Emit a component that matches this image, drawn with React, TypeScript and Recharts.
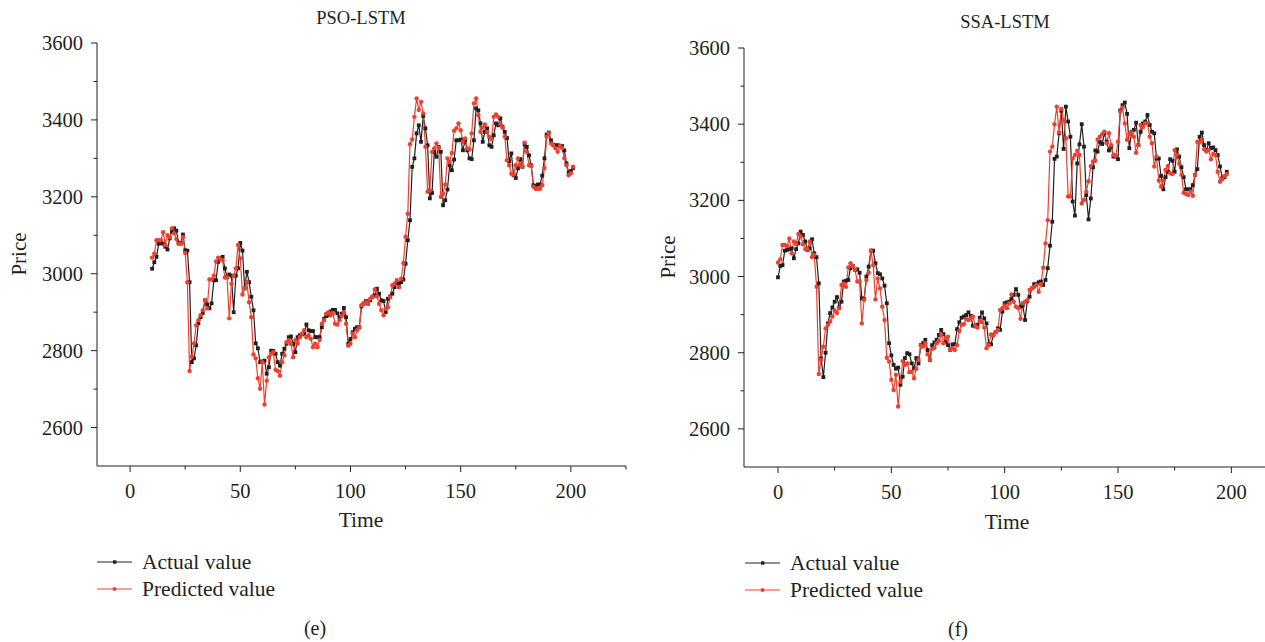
import { LineChart, Line, XAxis, YAxis } from 'recharts'

const SERIF = "'Liberation Serif', 'DejaVu Serif', serif"
const INK = '#231f20'
const RED = '#ee402e'

// PSO-LSTM panel, time starts at 10
const leftStart = 10
const leftActual = [
  3013, 3030, 3044, 3078, 3080, 3078, 3070, 3063, 3092, 3110,
  3118, 3112, 3081, 3080, 3102, 3061, 3060, 2978, 2770, 2780,
  2814, 2871, 2887, 2898, 2931, 2920, 2910, 2923, 2983, 2983,
  3031, 3040, 3044, 3014, 2992, 2998, 2995, 2900, 2995, 3014,
  3080, 3060, 2962, 3005, 2978, 2940, 2905, 2819, 2806, 2770,
  2772, 2774, 2740, 2757, 2800, 2799, 2792, 2770, 2761, 2792,
  2805, 2818, 2835, 2837, 2818, 2796, 2835, 2840, 2842, 2844,
  2868, 2853, 2851, 2851, 2835, 2835, 2835, 2861, 2883, 2890,
  2892, 2902, 2906, 2906, 2897, 2887, 2896, 2911, 2887, 2818,
  2830, 2848, 2857, 2861, 2861, 2915, 2922, 2929, 2922, 2931,
  2940, 2944, 2961, 2948, 2931, 2929, 2900, 2935, 2941, 2948,
  2965, 2976, 2974, 2978, 2985, 3026, 3087, 3139, 3278, 3300,
  3365, 3386, 3343, 3410, 3378, 3334, 3196, 3210, 3317, 3304,
  3330, 3317, 3178, 3191, 3219, 3282, 3269, 3297, 3347, 3347,
  3349, 3321, 3347, 3321, 3300, 3298, 3347, 3430, 3425, 3391,
  3343, 3369, 3378, 3334, 3330, 3360, 3391, 3386, 3404, 3382,
  3369, 3353, 3293, 3313, 3256, 3249, 3274, 3298, 3278, 3336,
  3330, 3308, 3282, 3230, 3228, 3232, 3232, 3255, 3300, 3362,
  3367, 3347, 3336, 3334, 3334, 3333, 3332, 3321, 3287, 3263,
  3267, 3275,
]
const leftPredicted = [
  3042, 3052, 3087, 3087, 3087, 3108, 3075, 3100, 3095, 3118,
  3105, 3090, 3078, 3078, 3095, 3054, 2978, 2747, 2784, 2819,
  2866, 2879, 2892, 2905, 2931, 2910, 2985, 2985, 2995, 3032,
  3042, 3038, 3035, 2990, 2990, 2884, 2974, 2995, 3014, 3075,
  3040, 2946, 2962, 2978, 2926, 2887, 2790, 2780, 2728, 2701,
  2770, 2660, 2722, 2783, 2792, 2796, 2750, 2747, 2735, 2770,
  2788, 2822, 2827, 2818, 2783, 2827, 2818, 2835, 2844, 2853,
  2835, 2840, 2831, 2809, 2818, 2809, 2828, 2870, 2879, 2896,
  2900, 2892, 2898, 2870, 2868, 2879, 2890, 2900, 2870, 2813,
  2818, 2844, 2835, 2853, 2860, 2918, 2924, 2926, 2924, 2935,
  2941, 2959, 2941, 2922, 2905, 2892, 2909, 2913, 2939, 2970,
  2974, 2983, 2965, 2987, 3028, 3096, 3156, 3337, 3349, 3408,
  3456, 3426, 3447, 3417, 3330, 3213, 3217, 3317, 3326, 3339,
  3328, 3200, 3208, 3232, 3300, 3291, 3314, 3372, 3378, 3391,
  3373, 3343, 3352, 3326, 3323, 3365, 3443, 3456, 3412, 3369,
  3380, 3388, 3369, 3356, 3350, 3408, 3414, 3408, 3388, 3380,
  3356, 3295, 3282, 3260, 3258, 3282, 3300, 3282, 3278, 3341,
  3317, 3282, 3280, 3226, 3221, 3221, 3221, 3230, 3275, 3356,
  3365, 3339, 3334, 3326, 3317, 3332, 3327, 3300, 3282, 3256,
  3261, 3278,
]

// SSA-LSTM panel, time starts at 0
const rightStart = 0
const rightActual = [
  2998, 3028, 3030, 3068, 3070, 3072, 3074, 3048, 3072, 3087,
  3118, 3109, 3092, 3070, 3074, 3098, 3061, 3051, 2982, 2785,
  2736, 2800, 2877, 2904, 2919, 2934, 2946, 2919, 2934, 2987,
  2989, 2991, 3022, 3028, 3017, 3019, 3010, 2943, 2941, 3000,
  3026, 3068, 3068, 3035, 3009, 3006, 2995, 2976, 2930, 2825,
  2793, 2768, 2758, 2761, 2716, 2737, 2786, 2799, 2796, 2772,
  2759, 2786, 2772, 2820, 2825, 2834, 2807, 2781, 2820, 2827,
  2834, 2847, 2860, 2849, 2829, 2820, 2807, 2822, 2822, 2862,
  2880, 2892, 2895, 2899, 2906, 2897, 2871, 2869, 2873, 2892,
  2906, 2890, 2877, 2822, 2822, 2847, 2854, 2864, 2860, 2908,
  2930, 2932, 2934, 2941, 2952, 2967, 2952, 2921, 2924, 2886,
  2936, 2947, 2969, 2980, 2980, 2985, 2987, 2978, 2991, 3022,
  3081, 3144, 3309, 3315, 3376, 3435, 3335, 3446, 3407, 3367,
  3197, 3160, 3297, 3347, 3400, 3341, 3214, 3150, 3205, 3287,
  3331, 3328, 3354, 3348, 3376, 3354, 3331, 3341, 3315, 3315,
  3308, 3436, 3450, 3457, 3427, 3337, 3380, 3385, 3404, 3345,
  3380, 3402, 3407, 3424, 3398, 3380, 3376, 3310, 3310, 3264,
  3229, 3261, 3275, 3308, 3304, 3275, 3334, 3315, 3287, 3261,
  3229, 3229, 3229, 3240, 3267, 3282, 3367, 3378, 3345, 3332,
  3350, 3337, 3339, 3332, 3319, 3289, 3258, 3261, 3275,
]
const rightPredicted = [
  3037, 3045, 3083, 3083, 3080, 3100, 3061, 3092, 3085, 3112,
  3105, 3085, 3072, 3072, 3092, 3051, 3057, 2973, 2744, 2781,
  2816, 2864, 2873, 2882, 2895, 2911, 2904, 2917, 2978, 2981,
  2973, 3024, 3035, 3028, 3017, 2987, 2987, 2877, 2939, 2991,
  3010, 3068, 3030, 2940, 2995, 2969, 2921, 2886, 2787, 2777,
  2729, 2702, 2742, 2659, 2724, 2778, 2768, 2772, 2749, 2750,
  2733, 2758, 2781, 2819, 2816, 2825, 2796, 2781, 2810, 2813,
  2825, 2831, 2847, 2825, 2838, 2842, 2807, 2812, 2807, 2820,
  2857, 2873, 2875, 2889, 2886, 2890, 2895, 2871, 2866, 2884,
  2880, 2866, 2812, 2820, 2848, 2845, 2854, 2860, 2912, 2917,
  2924, 2917, 2930, 2953, 2934, 2921, 2917, 2889, 2930, 2934,
  2938, 2965, 2969, 2973, 2978, 2960, 2980, 3023, 3087, 3148,
  3328, 3341, 3400, 3446, 3378, 3440, 3411, 3363, 3210, 3210,
  3310, 3319, 3330, 3319, 3192, 3201, 3223, 3250, 3290, 3302,
  3304, 3360, 3367, 3374, 3380, 3350, 3376, 3345, 3319, 3317,
  3354, 3433, 3444, 3402, 3359, 3374, 3378, 3367, 3325, 3345,
  3398, 3392, 3402, 3402, 3367, 3350, 3289, 3315, 3252, 3236,
  3252, 3280, 3290, 3271, 3269, 3332, 3319, 3296, 3267, 3220,
  3217, 3214, 3223, 3212, 3267, 3354, 3352, 3359, 3334, 3328,
  3332, 3308, 3322, 3319, 3275, 3249, 3255, 3264, 3269,
]

const xTicks = [0, 25, 50, 75, 100, 125, 150, 175, 200, 225]
const xMajor = [0, 50, 100, 150, 200]
const yTicks = [2600, 2700, 2800, 2900, 3000, 3100, 3200, 3300, 3400, 3500, 3600]
const yMajor = [2600, 2800, 3000, 3200, 3400, 3600]

function buildRows(start: number, actual: number[], predicted: number[]) {
  return actual.map((v, i) => ({ time: start + i, actual: v, predicted: predicted[i] }))
}

function TimeTick({ x, y, payload }: any) {
  const major = xMajor.includes(payload.value)
  return (
    <g>
      <line x1={x} x2={x} y1={y} y2={y + (major ? 6 : 3.5)} stroke={INK} />
      {major && (
        <text x={x} y={y + 32} textAnchor="middle" fontFamily={SERIF} fontSize={20.5} fill={INK}>
          {payload.value}
        </text>
      )}
    </g>
  )
}

function PriceTick({ x, y, payload }: any) {
  const major = yMajor.includes(payload.value)
  return (
    <g>
      <line x1={x} x2={x - (major ? 6 : 3.5)} y1={y} y2={y} stroke={INK} />
      {major && (
        <text x={x - 14} y={y + 7} textAnchor="end" fontFamily={SERIF} fontSize={20.5} fill={INK}>
          {payload.value}
        </text>
      )}
    </g>
  )
}

const squareDot = (p: any) => (
  <rect key={p.index} x={p.cx - 1.9} y={p.cy - 1.9} width={3.8} height={3.8} fill={INK} />
)
const roundDot = (p: any) => <circle key={p.index} cx={p.cx} cy={p.cy} r={2.2} fill={RED} />

function Panel({ rows, left, width, top, height }: any) {
  return (
    <div style={{ position: 'absolute', left, top: 0 }}>
      <LineChart width={width} height={height} data={rows}
        margin={{ top, right: 14, bottom: 14, left: 37 }}>
        <XAxis dataKey="time" type="number" domain={[-15, 225]} ticks={xTicks} interval={0}
          allowDataOverflow height={40} tickSize={0} tickMargin={0} tickLine={false}
          axisLine={{ stroke: INK }} tick={<TimeTick />} />
        <YAxis type="number" domain={[2500, 3600]} ticks={yTicks} interval={0}
          allowDataOverflow width={60} tickSize={0} tickMargin={0} tickLine={false}
          axisLine={{ stroke: INK }} tick={<PriceTick />} />
        <Line dataKey="actual" stroke={INK} strokeWidth={1.2} dot={squareDot} activeDot={false}
          isAnimationActive={false} />
        <Line dataKey="predicted" stroke={RED} strokeWidth={1.2} dot={roundDot} activeDot={false}
          isAnimationActive={false} />
      </LineChart>
    </div>
  )
}

function LegendRow({ x, y, color, label, square }: any) {
  return (
    <g>
      <line x1={x} x2={x + 35} y1={y} y2={y} stroke={color} strokeWidth={1.2} />
      {square
        ? <rect x={x + 16} y={y - 1.7} width={3.4} height={3.4} fill={color} />
        : <circle cx={x + 17.5} cy={y} r={2} fill={color} />}
      <text x={x + 45} y={y + 7} fontFamily={SERIF} fontSize={21.5} fill={INK}>{label}</text>
    </g>
  )
}

export default function App() {
  const leftRows = buildRows(leftStart, leftActual, leftPredicted)
  const rightRows = buildRows(rightStart, rightActual, rightPredicted)
  const txt = { fontFamily: SERIF, fill: INK }
  return (
    <div style={{ position: 'absolute', left: 0, top: 0, width: 1265, height: 642, overflow: 'hidden', background: '#fff' }}>
      <Panel rows={leftRows} left={0} width={640} top={43} height={520} />
      <Panel rows={rightRows} left={647} width={655} top={48} height={521} />
      <svg width={1265} height={642} style={{ position: 'absolute', left: 0, top: 0, pointerEvents: 'none' }}>
        <text x={361} y={24} textAnchor="middle" fontSize={18.5} {...txt}>PSO-LSTM</text>
        <text x={1005} y={28} textAnchor="middle" fontSize={18.5} {...txt}>SSA-LSTM</text>
        <text transform="translate(26,254) rotate(-90)" textAnchor="middle" fontSize={21} {...txt}>Price</text>
        <text transform="translate(675,257) rotate(-90)" textAnchor="middle" fontSize={21} {...txt}>Price</text>
        <text x={361} y={527} textAnchor="middle" fontSize={21.5} {...txt}>Time</text>
        <text x={1007} y={529} textAnchor="middle" fontSize={21.5} {...txt}>Time</text>
        <LegendRow x={97} y={562} color={INK} label="Actual value" square />
        <LegendRow x={97} y={589} color={RED} label="Predicted value" />
        <LegendRow x={745} y={563} color={INK} label="Actual value" square />
        <LegendRow x={745} y={590} color={RED} label="Predicted value" />
        <text x={315} y={635} textAnchor="middle" fontSize={20} {...txt}>(e)</text>
        <text x={958} y={636} textAnchor="middle" fontSize={20} {...txt}>(f)</text>
      </svg>
    </div>
  )
}
